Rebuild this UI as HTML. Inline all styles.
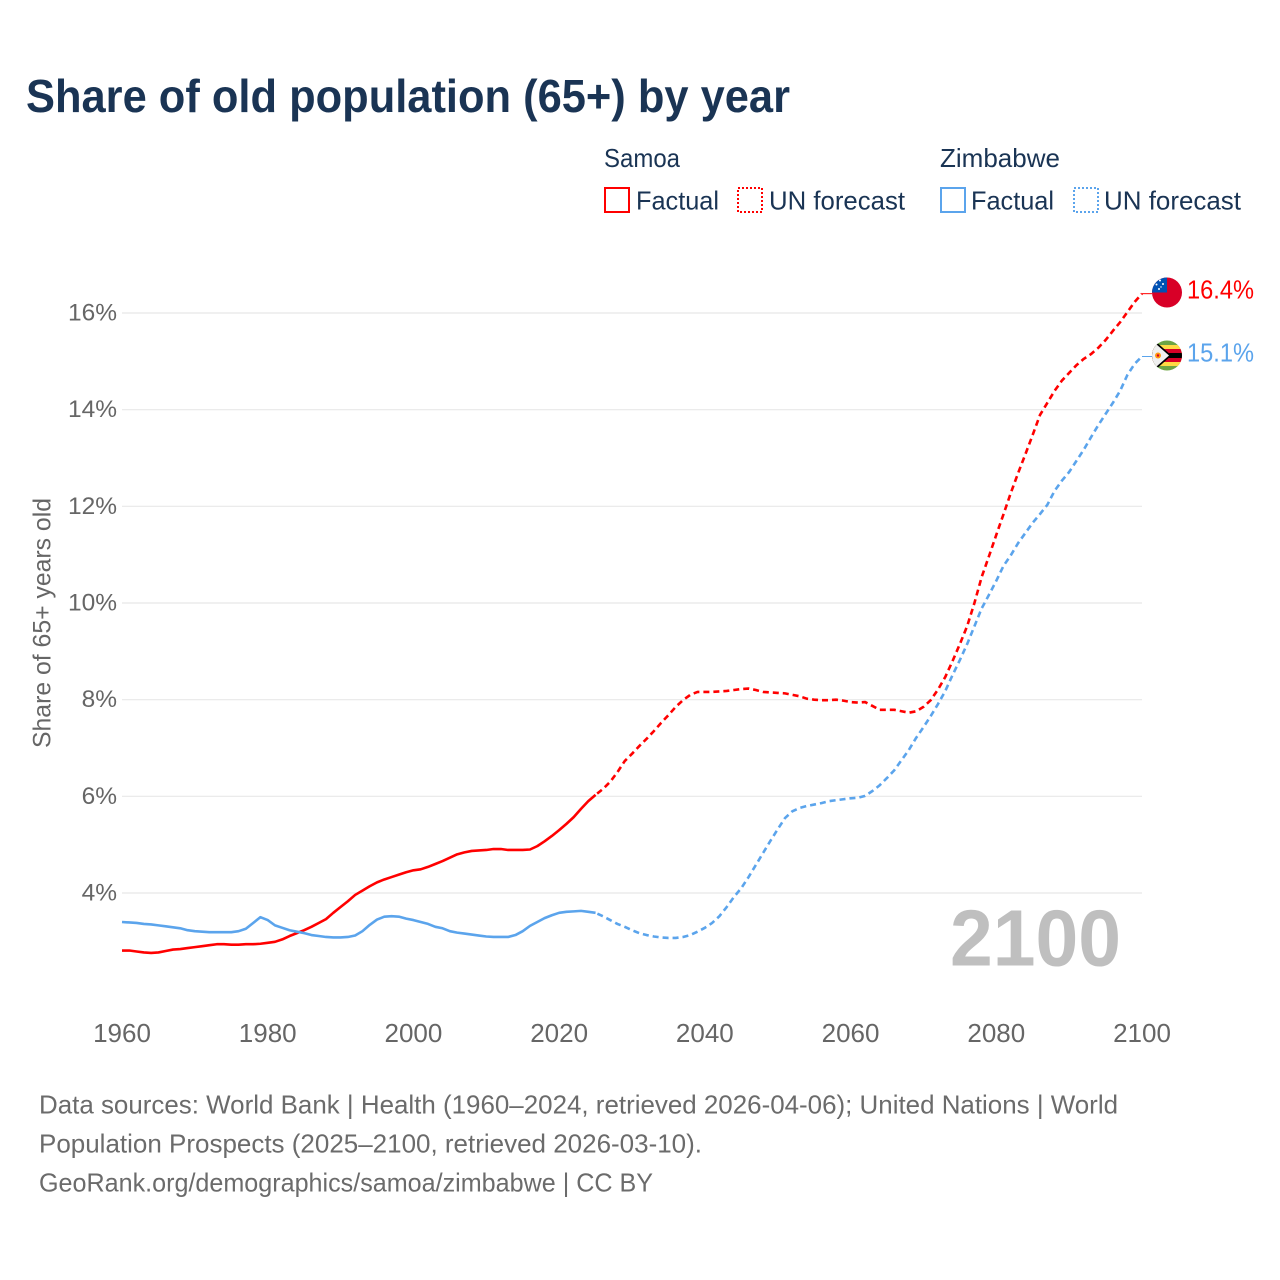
<!DOCTYPE html>
<html lang="en">
<head>
<meta charset="utf-8">
<title>Share of old population (65+) by year</title>
<style>
html,body{margin:0;padding:0;background:#fff;}
body{width:1280px;height:1280px;overflow:hidden;}
svg{display:block;font-family:"Liberation Sans",sans-serif;}
</style>
</head>
<body>
<svg id="chart" width="1280" height="1280" viewBox="0 0 1280 1280" xmlns="http://www.w3.org/2000/svg">
  <defs>
    <clipPath id="flag-clip-samoa"><circle cx="1167" cy="292.5" r="15"/></clipPath>
    <clipPath id="flag-clip-zimbabwe"><circle cx="1167" cy="355.5" r="15"/></clipPath>
  </defs>
  <rect width="1280" height="1280" fill="#fff"/>
  <text x="26" y="112" font-size="46" font-weight="700" fill="#1a3454" textLength="764" lengthAdjust="spacingAndGlyphs">Share of old population (65+) by year</text>

  <g font-size="26" fill="#1a3454">
    <text x="604" y="167" textLength="76" lengthAdjust="spacingAndGlyphs">Samoa</text>
    <text x="940" y="167" textLength="120" lengthAdjust="spacingAndGlyphs">Zimbabwe</text>
    <rect x="605" y="188" width="24" height="24" fill="none" stroke="#ff0000" stroke-width="2"/>
    <text x="636" y="209.5" textLength="83" lengthAdjust="spacingAndGlyphs">Factual</text>
    <rect x="738" y="188" width="24" height="24" fill="none" stroke="#ff0000" stroke-width="2" stroke-dasharray="2 2"/>
    <text x="769" y="209.5" textLength="136" lengthAdjust="spacingAndGlyphs">UN forecast</text>
    <rect x="941" y="188" width="24" height="24" fill="none" stroke="#5ba4ec" stroke-width="2"/>
    <text x="971" y="209.5" textLength="83" lengthAdjust="spacingAndGlyphs">Factual</text>
    <rect x="1074" y="188" width="24" height="24" fill="none" stroke="#5ba4ec" stroke-width="2" stroke-dasharray="2 2"/>
    <text x="1104" y="209.5" textLength="137" lengthAdjust="spacingAndGlyphs">UN forecast</text>
  </g>

  <g id="grid"></g>
  <g id="yticks"></g>
  <g id="xticks"></g>
  <text transform="translate(50.5 748) rotate(-90)" font-size="25" fill="#666" textLength="250" lengthAdjust="spacingAndGlyphs">Share of 65+ years old</text>

  <text x="950" y="965.5" font-size="80" font-weight="700" fill="#bfbfbf" textLength="171" lengthAdjust="spacingAndGlyphs">2100</text>

  <g id="series"></g>
  <g id="end-labels"></g>

  <g clip-path="url(#flag-clip-samoa)">
    <rect x="1152" y="277" width="30" height="31" fill="#d80027"/>
    <rect x="1152" y="277" width="15" height="15.5" fill="#0052b4"/>
    <circle cx="1160" cy="280.5" r="1" fill="#fff"/>
    <circle cx="1156.5" cy="284.5" r="1" fill="#fff"/>
    <circle cx="1163" cy="284" r="1" fill="#fff"/>
    <circle cx="1161" cy="287" r=".7" fill="#fff"/>
    <circle cx="1159" cy="289" r="1" fill="#fff"/>
  </g>
  <g clip-path="url(#flag-clip-zimbabwe)">
    <rect x="1152" y="340" width="30" height="31" fill="#6da544"/>
    <rect x="1152" y="345" width="30" height="21" fill="#ffda44"/>
    <rect x="1152" y="349" width="30" height="13" fill="#d80027"/>
    <rect x="1152" y="353" width="30" height="5" fill="#000"/>
    <polygon points="1154,340 1171.5,355.5 1154,371 1152,371 1152,340" fill="#000"/>
    <polygon points="1152,340.5 1169,355.5 1152,370.5" fill="#f0f0f0"/>
    <circle cx="1158" cy="355.5" r="3" fill="#ff9811"/>
    <circle cx="1158" cy="355.5" r="1.2" fill="#d80027"/>
  </g>

  <g font-size="26" fill="#6b6b6b">
    <text x="39" y="1113.5" textLength="1079" lengthAdjust="spacingAndGlyphs">Data sources: World Bank | Health (1960–2024, retrieved 2026-04-06); United Nations | World</text>
    <text x="39" y="1152.5" textLength="663" lengthAdjust="spacingAndGlyphs">Population Prospects (2025–2100, retrieved 2026-03-10).</text>
    <text x="39" y="1191.5" textLength="614" lengthAdjust="spacingAndGlyphs">GeoRank.org/demographics/samoa/zimbabwe | CC BY</text>
  </g>
</svg>

<script>
const yTicks = [4, 6, 8, 10, 12, 14, 16];
const xTicks = [1960, 1980, 2000, 2020, 2040, 2060, 2080, 2100];
const factualStartYear = 1960;
const forecastStartYear = 2025;

const samoaFactual = [
  2.81,2.81,2.79,2.77,2.76,2.77,2.80,2.83,2.84,2.86,
  2.88,2.90,2.92,2.94,2.94,2.93,2.93,2.94,2.94,2.95,
  2.97,2.99,3.04,3.11,3.17,3.23,3.30,3.38,3.46,3.59,
  3.71,3.83,3.96,4.05,4.14,4.22,4.28,4.33,4.38,4.43,
  4.47,4.49,4.54,4.60,4.66,4.73,4.80,4.84,4.87,4.88,
  4.89,4.91,4.91,4.89,4.89,4.89,4.90,4.97,5.07,5.18,
  5.30,5.43,5.57,5.74,5.90,6.03
];
const samoaForecast = [
  6.03,6.15,6.30,6.50,6.73,6.88,7.04,7.19,7.35,7.52,
  7.68,7.85,7.99,8.10,8.16,8.16,8.16,8.17,8.18,8.20,
  8.22,8.23,8.20,8.16,8.15,8.14,8.13,8.10,8.07,8.02,
  8.00,7.99,7.99,8.00,7.98,7.95,7.94,7.95,7.87,7.79,
  7.79,7.79,7.76,7.73,7.76,7.85,7.99,8.21,8.47,8.80,
  9.15,9.52,10.00,10.54,10.97,11.41,11.84,12.28,12.69,13.08,
  13.48,13.89,14.14,14.39,14.60,14.76,14.92,15.05,15.15,15.28,
  15.44,15.63,15.81,16.02,16.23,16.40
];
const zimbabweFactual = [
  3.40,3.39,3.38,3.36,3.35,3.33,3.31,3.29,3.27,3.23,
  3.21,3.20,3.19,3.19,3.19,3.19,3.21,3.26,3.38,3.50,
  3.44,3.33,3.28,3.23,3.20,3.17,3.13,3.11,3.09,3.08,
  3.08,3.09,3.12,3.21,3.34,3.45,3.51,3.52,3.51,3.47,
  3.44,3.40,3.36,3.30,3.27,3.21,3.18,3.16,3.14,3.12,
  3.10,3.09,3.09,3.09,3.13,3.21,3.32,3.40,3.48,3.54,
  3.59,3.61,3.62,3.63,3.61,3.59
];
const zimbabweForecast = [
  3.59,3.52,3.44,3.36,3.30,3.23,3.17,3.13,3.10,3.08,
  3.07,3.07,3.09,3.13,3.20,3.28,3.38,3.52,3.71,3.92,
  4.10,4.33,4.58,4.83,5.08,5.32,5.55,5.69,5.76,5.80,
  5.83,5.86,5.90,5.92,5.94,5.96,5.97,6.01,6.11,6.23,
  6.38,6.54,6.75,6.96,7.21,7.43,7.66,7.91,8.18,8.51,
  8.82,9.15,9.52,9.89,10.17,10.46,10.77,10.99,11.24,11.45,
  11.66,11.84,12.03,12.32,12.53,12.71,12.94,13.17,13.43,13.68,
  13.91,14.14,14.39,14.72,14.95,15.10
];

const NS = 'http://www.w3.org/2000/svg';
const RED = '#ff0000';
const BLUE = '#5ba4ec';

function xScale(year) { return 122 + (year - 1960) * (1020 / 140); }
function yScale(value) { return 893 - (value - 4) * (580 / 12); }

function linePath(values, startYear) {
  return values.map(function (v, i) {
    return (i ? 'L' : 'M') + xScale(startYear + i).toFixed(2) + ' ' + yScale(v).toFixed(2);
  }).join('');
}

const grid = document.getElementById('grid');
const yTickGroup = document.getElementById('yticks');
yTicks.forEach(function (t) {
  const line = document.createElementNS(NS, 'line');
  
  
  line.setAttribute('x1', xScale(1960));
  line.setAttribute('x2', xScale(2100));
  line.setAttribute('y1', yScale(t));
  line.setAttribute('y2', yScale(t));
  line.setAttribute('stroke', '#e8e8e8');
  line.setAttribute('stroke-width', '1.2');
  grid.appendChild(line);

  const label = document.createElementNS(NS, 'text');
  
  
  label.setAttribute('x', 117);
  label.setAttribute('y', yScale(t) + 7.5);
  label.setAttribute('text-anchor', 'end');
  label.setAttribute('font-size', '24.5');
  label.setAttribute('fill', '#666');
  label.textContent = t + '%';
  yTickGroup.appendChild(label);
});

const xTickGroup = document.getElementById('xticks');
xTicks.forEach(function (t) {
  const label = document.createElementNS(NS, 'text');
  
  
  label.setAttribute('x', xScale(t));
  label.setAttribute('y', 1042);
  label.setAttribute('text-anchor', 'middle');
  label.setAttribute('font-size', '26');
  label.setAttribute('fill', '#666');
  label.textContent = t;
  xTickGroup.appendChild(label);
});

const seriesGroup = document.getElementById('series');
function addLine(name, values, startYear, color, dash) {
  const path = document.createElementNS(NS, 'path');
  
  
  path.setAttribute('d', linePath(values, startYear));
  path.setAttribute('fill', 'none');
  path.setAttribute('stroke', color);
  path.setAttribute('stroke-width', '2.6');
  path.setAttribute('stroke-linejoin', 'round');
  if (dash) {
    path.setAttribute('stroke-dasharray', dash);
    path.setAttribute('stroke-dashoffset', '-2');
  }
  seriesGroup.appendChild(path);
}
addLine('samoa-factual-line', samoaFactual, factualStartYear, RED, null);
addLine('samoa-forecast-line', samoaForecast, forecastStartYear, RED, '6 4');
addLine('zimbabwe-factual-line', zimbabweFactual, factualStartYear, BLUE, null);
addLine('zimbabwe-forecast-line', zimbabweForecast, forecastStartYear, BLUE, '6 4');

const endGroup = document.getElementById('end-labels');
function addEnd(name, forecast, color, baselineShift) {
  const last = forecast[forecast.length - 1];
  const connector = document.createElementNS(NS, 'line');
  
  
  connector.setAttribute('x1', xScale(2100));
  connector.setAttribute('x2', xScale(2100) + 10);
  connector.setAttribute('y1', yScale(last));
  connector.setAttribute('y2', yScale(last));
  connector.setAttribute('stroke', color);
  connector.setAttribute('stroke-width', '1');
  endGroup.appendChild(connector);

  const label = document.createElementNS(NS, 'text');
  
  
  label.setAttribute('x', 1187);
  label.setAttribute('y', yScale(last) + baselineShift);
  label.setAttribute('font-size', '26');
  label.setAttribute('fill', color);
  label.setAttribute('textLength', '67');
  label.setAttribute('lengthAdjust', 'spacingAndGlyphs');
  label.textContent = last.toFixed(1) + '%';
  endGroup.appendChild(label);
}
addEnd('samoa', samoaForecast, RED, 5);
addEnd('zimbabwe', zimbabweForecast, BLUE, 5);
</script>
</body>
</html>
